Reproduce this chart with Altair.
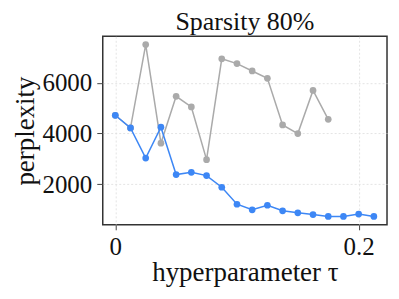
import altair as alt
import pandas as pd

x_gray = [0, 0.0125, 0.025, 0.0375, 0.05, 0.0625, 0.075, 0.0875, 0.1, 0.1125, 0.125, 0.1375, 0.15, 0.1625, 0.175]
y_gray = [4720, 4220, 7510, 3620, 5470, 5050, 2970, 6950, 6760, 6470, 6180, 4340, 4000, 5700, 4560]

x_blue = [0, 0.0125, 0.025, 0.0375, 0.05, 0.0625, 0.075, 0.0875, 0.1, 0.1125, 0.125, 0.1375, 0.15, 0.1625, 0.175, 0.1875, 0.2, 0.2125]
y_blue = [4720, 4220, 3030, 4250, 2380, 2470, 2340, 1880, 1210, 990, 1170, 950, 870, 800, 730, 730, 820, 730]

rows = [{"tau": x, "ppl": y, "series": "gray"} for x, y in zip(x_gray, y_gray)]
rows += [{"tau": x, "ppl": y, "series": "blue"} for x, y in zip(x_blue, y_blue)]
df = pd.DataFrame(rows)

FONT = "Liberation Serif"

color = alt.Color("series:N", scale=alt.Scale(domain=["gray", "blue"], range=["#aaaaaa", "#3d87f5"]), legend=None)

x = alt.X("tau:Q", scale=alt.Scale(domain=[-0.0103, 0.2233], nice=False, zero=False),
          axis=alt.Axis(values=[0, 0.2], format=".1~f", title="hyperparameter τ",
                        grid=True, domain=False, tickSize=5, labelPadding=5, titlePadding=0))
y = alt.Y("ppl:Q", scale=alt.Scale(domain=[398, 7838], nice=False, zero=False),
          axis=alt.Axis(values=[2000, 4000, 6000], format="d", title="perplexity", grid=True,
                        domain=False, tickSize=6, labelPadding=5, titlePadding=2))

base = alt.Chart(df).encode(x=x, y=y, color=color, detail="series:N")
line = base.mark_line(strokeWidth=1.5)
pts = base.mark_circle(size=45, opacity=1)

chart = alt.layer(line, pts).properties(
    width=285, height=189,
    title=alt.TitleParams("Sparsity 80%", fontSize=26, font=FONT, fontWeight="normal", color="#111",
                          offset=1),
    autosize="none",
    padding={"left": 95, "top": 28, "right": 4, "bottom": 66},
).configure_view(
    stroke="#333", strokeWidth=1.5
).configure_axis(
    labelFont=FONT, titleFont=FONT, labelFontSize=25, titleFontSize=27,
    labelColor="#111", titleColor="#111", titleFontWeight="normal",
    gridColor="#dddddd", gridDash=[2, 2], gridWidth=0.8,
    tickColor="#444",
)

chart.save("out.html", embed_options={"renderer": "svg", "actions": False})
